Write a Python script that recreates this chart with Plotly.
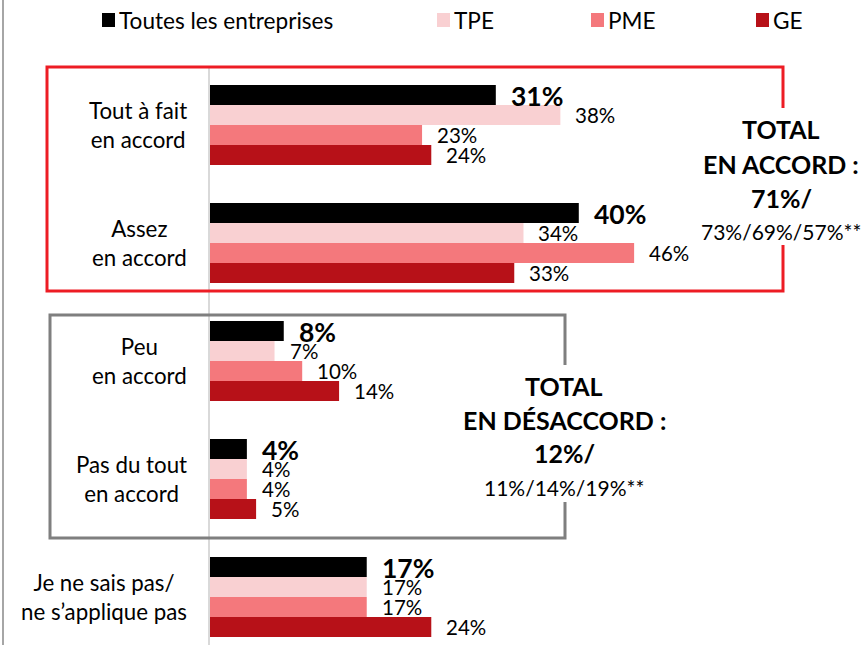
import plotly.graph_objects as go

# Survey answers, one bar per company size inside each answer group
categories = [
    "Tout à fait<br>en accord",
    "Assez<br>en accord",
    "Peu<br>en accord",
    "Pas du tout<br>en accord",
    "Je ne sais pas/<br>ne s’applique pas",
]
series_names = ["Toutes les entreprises", "TPE", "PME", "GE"]
toutes = [31, 40, 8, 4, 17]
tpe = [38, 34, 7, 4, 17]
pme = [23, 46, 10, 4, 17]
ge = [24, 33, 14, 5, 24]
series_values = [toutes, tpe, pme, ge]
colors = ["#000000", "#f9d0d2", "#f4787c", "#b71118"]

total_accord = ["TOTAL", "EN ACCORD :", "71%/", "73%/69%/57%**"]
total_desaccord = ["TOTAL", "EN DÉSACCORD :", "12%/", "11%/14%/19%**"]

FONT = "Lato"
W, H = 867, 645
ML, MT = 210, 66
PLOT_W, PLOT_H = W - ML, H - MT
PX_PER_PCT = 9.22
BAND_PX = 118
BARGAP = 0.32


def px_x(px):
    return (px - ML) / PLOT_W


def px_y(py):
    return (H - py) / PLOT_H


fig = go.Figure()
ypos = list(range(len(categories)))
for name, vals, col in zip(series_names, series_values, colors):
    fig.add_trace(go.Bar(
        y=ypos, x=vals, name=name, orientation="h",
        marker=dict(color=col, line=dict(width=0)),
        showlegend=False, hoverinfo="x+name",
    ))

annotations = []
shapes = []

# value labels at the end of each bar
n = len(series_names)
bar_w = (1 - BARGAP) / n
for k, vals in enumerate(series_values):
    off = (k - (n - 1) / 2) * bar_w
    bold = k == 0
    for i, v in enumerate(vals):
        annotations.append(dict(
            x=v, y=i + off, xref="x", yref="y",
            text=f"<b>{v}%</b>" if bold else f"{v}%",
            showarrow=False, xanchor="left", yanchor="middle",
            xshift=13, yshift=-1 if bold else 0,
            font=dict(family=FONT, size=26.5 if bold else 20.5, color="#000"),
        ))

# category labels on the left
for i, c in enumerate(categories):
    annotations.append(dict(
        x=0, y=i, xref="paper", yref="y", text=c, showarrow=False,
        xanchor="right", yanchor="middle", align="center", xshift=-21,
        font=dict(family=FONT, size=22.3, color="#000"),
    ))

# legend drawn as swatches + text
legend_sw = [102, 437, 591, 756]
for name, col, sx in zip(series_names, colors, legend_sw):
    shapes.append(dict(type="rect", xref="paper", yref="paper",
                       x0=px_x(sx), x1=px_x(sx + 13), y0=px_y(27), y1=px_y(13),
                       fillcolor=col, line=dict(width=0)))
    annotations.append(dict(
        x=px_x(sx + 15), y=px_y(20), xref="paper", yref="paper", text=name,
        showarrow=False, xanchor="left", yanchor="middle",
        font=dict(family=FONT, size=22.6, color="#000"),
    ))


def open_box(x0, x1, y0, y1, gap0, gap1, color):
    path = (f"M {px_x(x1)},{px_y(gap0)} L {px_x(x1)},{px_y(y0)} "
            f"L {px_x(x0)},{px_y(y0)} L {px_x(x0)},{px_y(y1)} "
            f"L {px_x(x1)},{px_y(y1)} L {px_x(x1)},{px_y(gap1)}")
    shapes.append(dict(type="path", path=path, xref="paper", yref="paper",
                       line=dict(color=color, width=3)))


open_box(47, 783, 67, 291, 108, 245, "#ed1c24")
open_box(50, 565, 315, 538, 365, 502, "#7f7f7f")


def total_block(cx, ys, lines):
    for j, (yy, t) in enumerate(zip(ys, lines)):
        last = j == len(lines) - 1
        annotations.append(dict(
            x=px_x(cx), y=px_y(yy), xref="paper", yref="paper",
            text=t if last else f"<b>{t}</b>", showarrow=False,
            xanchor="center", yanchor="middle",
            font=dict(family=FONT, size=21 if last else 25, color="#000"),
        ))


total_block(781, [129, 164, 198, 231], total_accord)
total_block(564, [386, 420, 453, 487], total_desaccord)

# outer left border
shapes.append(dict(type="line", xref="paper", yref="paper",
                   x0=px_x(3), x1=px_x(3), y0=px_y(0), y1=px_y(H),
                   line=dict(color="#a6a6a6", width=2)))

fig.update_layout(
    width=W, height=H,
    margin=dict(l=ML, r=0, t=MT, b=0, pad=0),
    paper_bgcolor="white", plot_bgcolor="white",
    barmode="group", bargap=BARGAP, bargroupgap=0,
    xaxis=dict(range=[0, PLOT_W / PX_PER_PCT], visible=False, fixedrange=True),
    yaxis=dict(range=[-0.5 + PLOT_H / BAND_PX, -0.5],
               showticklabels=False, showgrid=False, zeroline=False,
               showline=True, linecolor="#d9d9d9", linewidth=2, ticks=""),
    annotations=annotations, shapes=shapes,
    font=dict(family=FONT),
)

fig.write_html("out.html")
